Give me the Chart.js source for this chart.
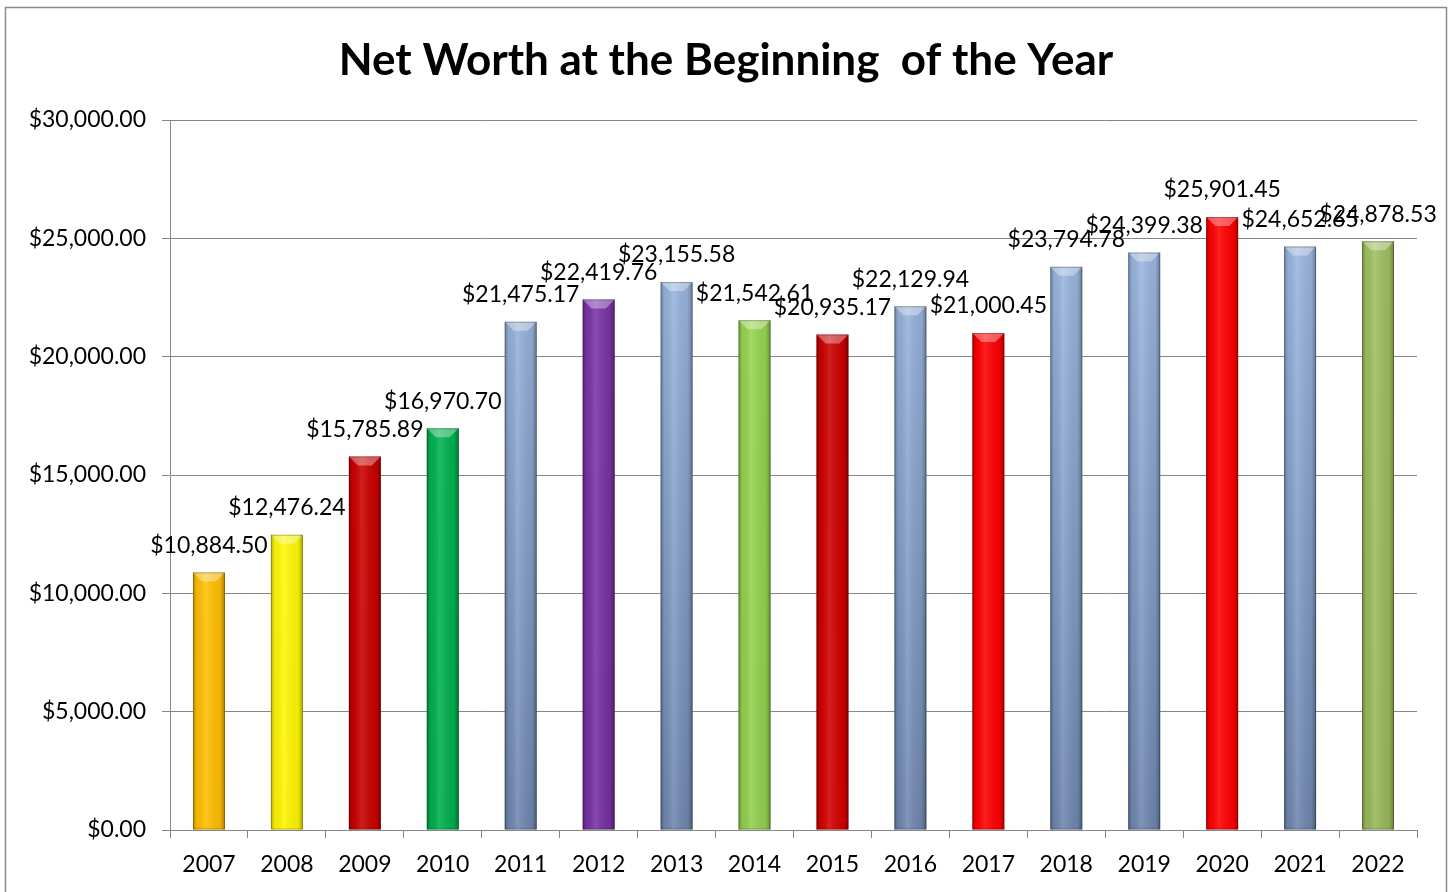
<!DOCTYPE html>
<html>
<head>
<meta charset="utf-8">
<script src="https://cdn.jsdelivr.net/npm/chart.js@4.4.1/dist/chart.umd.min.js"></script>
<style>
  html, body { margin: 0; padding: 0; background: #fff; }
  #wrap { width: 1452px; height: 892px; position: relative; }
</style>
</head>
<body>
<div id="wrap"><canvas id="chart" width="1452" height="892"></canvas></div>
<script>
const chartTitle = 'Net Worth at the Beginning  of the Year';
const years = ['2007','2008','2009','2010','2011','2012','2013','2014','2015','2016','2017','2018','2019','2020','2021','2022'];
const netWorth = [10884.50, 12476.24, 15785.89, 16970.70, 21475.17, 22419.76, 23155.58, 21542.61,
                  20935.17, 22129.94, 21000.45, 23794.78, 24399.38, 25901.45, 24652.65, 24878.53];
// top / bottom colours of each bar
const topColors = ['#FFC20A','#FFFF10','#CC0000','#00B451','#9DB9E2','#7A36A8','#9DB9E2','#96D652',
                   '#C80000','#9DB9E2','#FF0000','#9DB9E2','#9DB9E2','#FF0000','#9DB9E2','#A0C060'];
const bottomColors = ['#FFBE00','#FFF500','#C80000','#00AE4E','#6E86AE','#7530A2','#6E86AE','#92D04E',
                      '#D40000','#6E86AE','#FF0000','#6E86AE','#6E86AE','#FF0000','#6E86AE','#98B858'];

const money = v => '$' + v.toLocaleString('en-US', {minimumFractionDigits: 2, maximumFractionDigits: 2});

// white page, outer frame and the title (centred on the whole page, like the original)
const frame = {
  id: 'frame',
  beforeDraw(chart) {
    const c = chart.ctx;
    c.save();
    c.fillStyle = '#fff';
    c.fillRect(0, 0, chart.width, chart.height);
    c.strokeStyle = '#8c8c8c';
    c.lineWidth = 1.5;
    c.strokeRect(5.5, 7.5, 1441, 900);
    c.fillStyle = '#000';
    c.font = 'bold 44px Lato';
    c.textAlign = 'center';
    c.textBaseline = 'middle';
    c.fillText(chartTitle, chart.width / 2, 61);
    c.restore();
  }
};

// cylinder-ish shading and value labels
const shade = {
  id: 'shade',
  afterDatasetsDraw(chart) {
    const c = chart.ctx;
    const meta = chart.getDatasetMeta(0);
    c.save();
    meta.data.forEach((bar, i) => {
      const l = bar.x - bar.width / 2, r = bar.x + bar.width / 2;
      const t = bar.y, b = bar.base;
      const g = c.createLinearGradient(l, 0, r, 0);
      g.addColorStop(0, 'rgba(0,0,0,0.28)');
      g.addColorStop(0.12, 'rgba(0,0,0,0.05)');
      g.addColorStop(0.4, 'rgba(255,255,255,0.12)');
      g.addColorStop(0.85, 'rgba(0,0,0,0.06)');
      g.addColorStop(1, 'rgba(0,0,0,0.32)');
      c.fillStyle = g;
      c.fillRect(l, t, r - l, b - t);
      // top bevel
      c.beginPath();
      c.moveTo(l, t);
      c.lineTo(r, t);
      c.lineTo(r - 9, t + 9);
      c.lineTo(l + 9, t + 9);
      c.closePath();
      c.fillStyle = 'rgba(255,255,255,0.35)';
      c.fill();
      c.strokeStyle = 'rgba(0,0,0,0.25)';
      c.lineWidth = 1;
      c.strokeRect(l + 0.5, t + 0.5, r - l - 1, b - t - 1);
      // label
      c.fillStyle = '#000';
      c.font = '23px Lato';
      c.textAlign = 'center';
      c.textBaseline = 'middle';
      c.fillText(money(netWorth[i]), bar.x, t - 27);
    });
    c.restore();
  }
};

new Chart(document.getElementById('chart'), {
  type: 'bar',
  data: {
    labels: years,
    datasets: [{
      data: netWorth,
      backgroundColor(ctx) {
        const area = ctx.chart.chartArea;
        const i = ctx.dataIndex;
        if (!area) return topColors[i];
        const g = ctx.chart.ctx.createLinearGradient(0, area.top + 100, 0, area.bottom);
        g.addColorStop(0, topColors[i]);
        g.addColorStop(1, bottomColors[i]);
        return g;
      },
      borderWidth: 0,
      barPercentage: 0.41,
      categoryPercentage: 1
    }]
  },
  options: {
    responsive: false,
    animation: false,
    devicePixelRatio: 1,
    layout: { padding: { left: 0, right: 35, top: 120, bottom: 0 } },
    plugins: {
      legend: { display: false },
      tooltip: { enabled: false },
      title: { display: false }
    },
    scales: {
      x: {
        grid: { drawOnChartArea: false, drawTicks: true, tickLength: 8, color: '#868686', offset: true },
        border: { color: '#868686', width: 1 },
        ticks: { color: '#000', font: { family: 'Lato', size: 23 }, padding: 13, maxRotation: 0 },
        afterFit(scale) { scale.height = 62; }
      },
      y: {
        min: 0,
        max: 30000,
        grid: { color: '#868686', tickLength: 8, lineWidth: 1 },
        border: { color: '#868686', width: 1 },
        ticks: {
          stepSize: 5000,
          color: '#000',
          font: { family: 'Lato', size: 23 },
          padding: 16,
          callback: v => money(v)
        },
        afterFit(scale) { scale.width = 170; }
      }
    }
  },
  plugins: [frame, shade]
});
</script>
</body>
</html>
